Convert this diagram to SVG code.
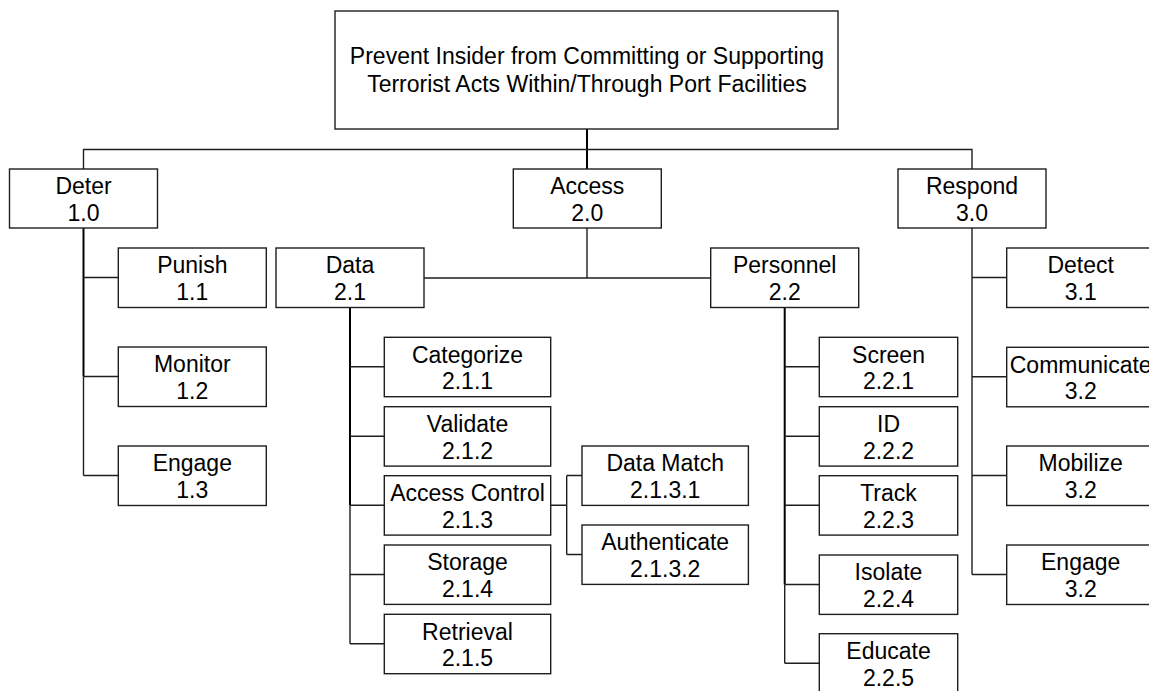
<svg xmlns="http://www.w3.org/2000/svg" width="1149" height="691" viewBox="0 0 1149 691">
<style>
.b{fill:#fff;stroke:#1e1e1e;stroke-width:1.4}
.t{font-family:"Liberation Sans",Arial,sans-serif;font-size:23px;fill:#000;text-anchor:middle}
.c{fill:none;stroke:#1e1e1e;stroke-width:1.4}
.k{fill:none;stroke:#000;stroke-width:2}
</style>
<rect width="1149" height="691" fill="#fff"/>
<g id="connectors">
<path class="k" d="M587 129V169"/>
<path class="c" d="M83.5 169V149.5H972V169"/>
<path class="k" d="M83.5 228V376.5"/>
<path class="c" d="M83.5 376.5V475.5M83.5 277.5H118.3M83.5 376.5H118.3M83.5 475.5H118.3"/>
<path class="c" d="M587 228V278M424 278H710.7"/>
<path class="k" d="M350 308V505"/>
<path class="c" d="M350 505V643.8M350 366.8H384.3M350 436.2H384.3M350 505.2H384.3M350 574.5H384.3M350 643.8H384.3"/>
<path class="c" d="M550.7 505.2H566.7M566.7 475.5V554.5M566.7 475.5H582M566.7 554.5H582"/>
<path class="k" d="M784.7 308V584.5"/>
<path class="c" d="M784.7 584.5V663.2M784.7 366.8H819.3M784.7 436.2H819.3M784.7 505.2H819.3M784.7 584.5H819.3M784.7 663.2H819.3"/>
<path class="c" d="M972 228V574.5M972 277.5H1006.7M972 376.8H1006.7M972 475.5H1006.7M972 574.5H1006.7"/>
</g>
<g id="n0"><rect class="b" x="335" y="11" width="503" height="118"/><text class="t" x="587" y="64">Prevent Insider from Committing or Supporting</text><text class="t" x="587" y="91.5">Terrorist Acts Within/Through Port Facilities</text></g>
<g id="n1"><rect class="b" x="9.5" y="169" width="148" height="59"/><text class="t" x="83.5" y="194.3">Deter</text><text class="t" x="83.5" y="220.8">1.0</text></g>
<g id="n2"><rect class="b" x="513.3" y="169" width="148" height="59"/><text class="t" x="587.3" y="194.3">Access</text><text class="t" x="587.3" y="220.8">2.0</text></g>
<g id="n3"><rect class="b" x="898" y="169" width="148" height="59"/><text class="t" x="972" y="194.3">Respond</text><text class="t" x="972" y="220.8">3.0</text></g>
<g id="n11"><rect class="b" x="118.3" y="248" width="148" height="59.5"/><text class="t" x="192.3" y="273.3">Punish</text><text class="t" x="192.3" y="299.8">1.1</text></g>
<g id="n12"><rect class="b" x="118.3" y="347" width="148" height="59.5"/><text class="t" x="192.3" y="372.3">Monitor</text><text class="t" x="192.3" y="398.8">1.2</text></g>
<g id="n13"><rect class="b" x="118.3" y="446" width="148" height="59.5"/><text class="t" x="192.3" y="471.3">Engage</text><text class="t" x="192.3" y="497.8">1.3</text></g>
<g id="n21"><rect class="b" x="276" y="248" width="148" height="59.5"/><text class="t" x="350" y="273.3">Data</text><text class="t" x="350" y="299.8">2.1</text></g>
<g id="n22"><rect class="b" x="710.7" y="248" width="148" height="59.5"/><text class="t" x="784.7" y="273.3">Personnel</text><text class="t" x="784.7" y="299.8">2.2</text></g>
<g id="n211"><rect class="b" x="384.3" y="337.3" width="166.4" height="59.4"/><text class="t" x="467.5" y="362.6">Categorize</text><text class="t" x="467.5" y="389.1">2.1.1</text></g>
<g id="n212"><rect class="b" x="384.3" y="406.7" width="166.4" height="59.4"/><text class="t" x="467.5" y="432">Validate</text><text class="t" x="467.5" y="458.5">2.1.2</text></g>
<g id="n213"><rect class="b" x="384.3" y="475.7" width="166.4" height="59.4"/><text class="t" x="467.5" y="501">Access Control</text><text class="t" x="467.5" y="527.5">2.1.3</text></g>
<g id="n214"><rect class="b" x="384.3" y="545" width="166.4" height="59.4"/><text class="t" x="467.5" y="570.3">Storage</text><text class="t" x="467.5" y="596.8">2.1.4</text></g>
<g id="n215"><rect class="b" x="384.3" y="614.3" width="166.4" height="59.4"/><text class="t" x="467.5" y="639.6">Retrieval</text><text class="t" x="467.5" y="666.1">2.1.5</text></g>
<g id="n2131"><rect class="b" x="582" y="446" width="166.4" height="59.4"/><text class="t" x="665.2" y="471.3">Data Match</text><text class="t" x="665.2" y="497.8">2.1.3.1</text></g>
<g id="n2132"><rect class="b" x="582" y="525" width="166.4" height="59.4"/><text class="t" x="665.2" y="550.3">Authenticate</text><text class="t" x="665.2" y="576.8">2.1.3.2</text></g>
<g id="n221"><rect class="b" x="819.3" y="337.3" width="138.4" height="59.4"/><text class="t" x="888.5" y="362.6">Screen</text><text class="t" x="888.5" y="389.1">2.2.1</text></g>
<g id="n222"><rect class="b" x="819.3" y="406.7" width="138.4" height="59.4"/><text class="t" x="888.5" y="432">ID</text><text class="t" x="888.5" y="458.5">2.2.2</text></g>
<g id="n223"><rect class="b" x="819.3" y="475.7" width="138.4" height="59.4"/><text class="t" x="888.5" y="501">Track</text><text class="t" x="888.5" y="527.5">2.2.3</text></g>
<g id="n224"><rect class="b" x="819.3" y="555" width="138.4" height="59.4"/><text class="t" x="888.5" y="580.3">Isolate</text><text class="t" x="888.5" y="606.8">2.2.4</text></g>
<g id="n225"><rect class="b" x="819.3" y="633.7" width="138.4" height="59.4"/><text class="t" x="888.5" y="659">Educate</text><text class="t" x="888.5" y="685.5">2.2.5</text></g>
<g id="n31"><rect class="b" x="1006.7" y="248" width="148" height="59.5"/><text class="t" x="1080.7" y="273.3">Detect</text><text class="t" x="1080.7" y="299.8">3.1</text></g>
<g id="n32"><rect class="b" x="1006.7" y="347.3" width="148" height="59.5"/><text class="t" x="1080.7" y="372.6">Communicate</text><text class="t" x="1080.7" y="399.1">3.2</text></g>
<g id="n33"><rect class="b" x="1006.7" y="446" width="148" height="59.5"/><text class="t" x="1080.7" y="471.3">Mobilize</text><text class="t" x="1080.7" y="497.8">3.2</text></g>
<g id="n34"><rect class="b" x="1006.7" y="545" width="148" height="59.5"/><text class="t" x="1080.7" y="570.3">Engage</text><text class="t" x="1080.7" y="596.8">3.2</text></g>
</svg>
